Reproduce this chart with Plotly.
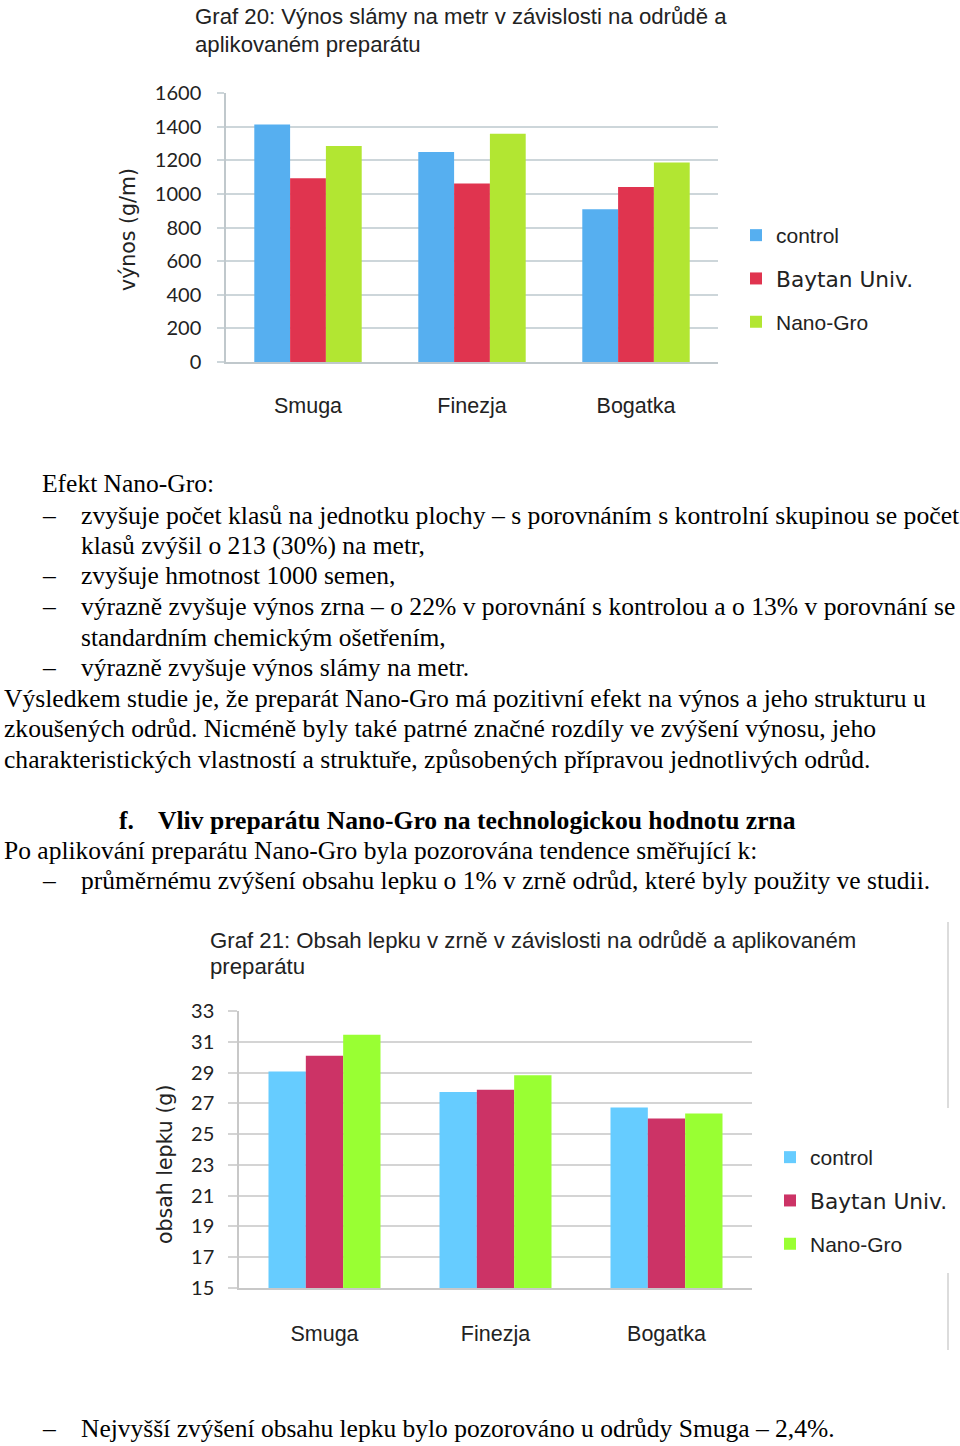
import plotly.graph_objects as go

W, H = 960, 1446

# ---------------- data ----------------
categories = ["Smuga", "Finezja", "Bogatka"]
series = ["control", "Baytan Univ.", "Nano-Gro"]

straw_control = [1413, 1249, 909]
straw_baytan = [1093, 1061, 1041]
straw_nanogro = [1285, 1358, 1186]

gluten_control = [29.07, 27.73, 26.73]
gluten_baytan = [30.09, 27.88, 26.02]
gluten_nanogro = [31.45, 28.83, 26.34]

straw_ticks = [0, 200, 400, 600, 800, 1000, 1200, 1400, 1600]
gluten_ticks = [15, 17, 19, 21, 23, 25, 27, 29, 31, 33]

title1 = ["Graf 20: Výnos slámy na metr v závislosti na odrůdě a", "aplikovaném preparátu"]
title2 = ["Graf 21: Obsah lepku v zrně v závislosti na odrůdě a aplikovaném", "preparátu"]
ytitle1 = "výnos (g/m)"
ytitle2 = "obsah lepku (g)"

# body text: (y_px, x_px, text, bold, size)
body_lines = [
    (484, 40, "Efekt Nano-Gro:", False, 25.5),
    (515, 40, "–", False, 25.5),
    (515, 79, "zvyšuje počet klasů na jednotku plochy – s porovnáním s kontrolní skupinou se počet", False, 25.7),
    (545, 79, "klasů zvýšil o 213 (30%) na metr,", False, 25.5),
    (576, 40, "–", False, 25.5),
    (576, 79, "zvyšuje hmotnost 1000 semen,", False, 25.5),
    (606, 40, "–", False, 25.5),
    (606, 79, "výrazně zvyšuje výnos zrna – o 22% v porovnání s kontrolou a o 13% v porovnání se", False, 25.6),
    (637, 79, "standardním chemickým ošetřením,", False, 25.5),
    (667, 40, "–", False, 25.5),
    (667, 79, "výrazně zvyšuje výnos slámy na metr.", False, 25.5),
    (698, 2, "Výsledkem studie je, že preparát Nano-Gro má pozitivní efekt na výnos a jeho strukturu u", False, 25.6),
    (728, 2, "zkoušených odrůd. Nicméně byly také patrné značné rozdíly ve zvýšení výnosu, jeho", False, 25.6),
    (759, 2, "charakteristických vlastností a struktuře, způsobených přípravou jednotlivých odrůd.", False, 25.6),
    (820, 117, "f.", True, 25.5),
    (820, 156, "Vliv preparátu Nano-Gro na technologickou hodnotu zrna", True, 25.6),
    (850, 2, "Po aplikování preparátu Nano-Gro byla pozorována tendence směřující k:", False, 25.5),
    (881, 40, "–", False, 25.5),
    (881, 79, "průměrnému zvýšení obsahu lepku o 1% v zrně odrůd, které byly použity ve studii.", False, 25.5),
    (1428, 40, "–", False, 25.5),
    (1428, 79, "Nejvyšší zvýšení obsahu lepku bylo pozorováno u odrůdy Smuga – 2,4%.", False, 25.5),
]

colors1 = ["#56aff0", "#e0344f", "#b2e632"]
colors2 = ["#66ccff", "#cc3366", "#99ff33"]


def py(px):
    return 1 - px / H


def pxx(px):
    return px / W


fig = go.Figure()

straw = [straw_control, straw_baytan, straw_nanogro]
gluten = [gluten_control, gluten_baytan, gluten_nanogro]


def legend_name(s):
    if s == "Baytan Univ.":
        return '<span style="font-family:DejaVu Sans;font-size:21.7px">' + s + "</span>"
    return s


for i, s in enumerate(series):
    fig.add_trace(go.Bar(x=categories, y=straw[i], name=legend_name(s), marker_color=colors1[i],
                         marker_line_width=0, xaxis="x", yaxis="y", legend="legend",
                         legendgroup="a" + str(i)))
for i, s in enumerate(series):
    fig.add_trace(go.Bar(x=categories, y=gluten[i], name=legend_name(s), marker_color=colors2[i],
                         marker_line_width=0, xaxis="x2", yaxis="y2", legend="legend2",
                         legendgroup="b" + str(i)))

tickfont = dict(family="Lato", size=20, color="#222222")
catfont = dict(family="Liberation Sans", size=21.5, color="#222222")
legfont = dict(family="Liberation Sans", size=21, color="#222222")

fig.update_layout(
    width=W, height=H,
    margin=dict(l=0, r=0, t=0, b=0, autoexpand=False),
    paper_bgcolor="white", plot_bgcolor="white",
    barmode="group", bargap=0.345, bargroupgap=0,
    showlegend=True,
    xaxis=dict(domain=[pxx(226), pxx(718)], anchor="y", showgrid=False, showline=True,
               linecolor="#c0c8cc", linewidth=1.5, ticks="", tickfont=catfont,
               ticklabelstandoff=23, range=[-0.5, 2.5], automargin=False),
    yaxis=dict(domain=[py(362), py(93)], anchor="x", range=[0, 1600], tickvals=straw_ticks,
               showgrid=True, gridcolor="#cdd6da", gridwidth=1.5, showline=True,
               linecolor="#c0c8cc", linewidth=1.5, ticks="outside", ticklen=7,
               tickcolor="#cdd6da", tickwidth=1.5, tickfont=tickfont, ticklabelstandoff=12,
               zeroline=False, automargin=False),
    xaxis2=dict(domain=[pxx(239), pxx(752)], anchor="y2", showgrid=False, showline=True,
                linecolor="#c8c8c8", linewidth=1.5, ticks="", tickfont=catfont,
                ticklabelstandoff=25, range=[-0.5, 2.5], automargin=False),
    yaxis2=dict(domain=[py(1288), py(1011)], anchor="x2", range=[15, 33], tickvals=gluten_ticks,
                showgrid=True, gridcolor="#d4d4d4", gridwidth=1.5, showline=True,
                linecolor="#c8c8c8", linewidth=1.5, ticks="outside", ticklen=9,
                tickcolor="#d4d4d4", tickwidth=1.5, tickfont=tickfont, ticklabelstandoff=10,
                zeroline=False, automargin=False),
    legend=dict(x=pxx(736), y=py(215), xanchor="left", yanchor="top", font=legfont,
                traceorder="grouped", tracegroupgap=13, bgcolor="rgba(0,0,0,0)",
                itemclick=False),
    legend2=dict(x=pxx(770), y=py(1137), xanchor="left", yanchor="top", font=legfont,
                 traceorder="grouped", tracegroupgap=13, bgcolor="rgba(0,0,0,0)",
                 itemclick=False),
)

annotations = []
titlefont = dict(family="Liberation Sans", size=22.2, color="#222222")
for k, t in enumerate(title1):
    annotations.append(dict(text=t, x=pxx(193), y=py(17 + 27 * k), xref="paper", yref="paper",
                            xanchor="left", yanchor="middle", showarrow=False, font=titlefont))
for k, t in enumerate(title2):
    annotations.append(dict(text=t, x=pxx(208), y=py(940 + 27 * k), xref="paper", yref="paper",
                            xanchor="left", yanchor="middle", showarrow=False, font=titlefont))
annotations.append(dict(text=ytitle1, x=pxx(128), y=py(230), xref="paper", yref="paper",
                        textangle=-90, showarrow=False, xanchor="center", yanchor="middle",
                        font=dict(family="DejaVu Sans", size=20.5, color="#222222")))
annotations.append(dict(text=ytitle2, x=pxx(165), y=py(1165), xref="paper", yref="paper",
                        textangle=-90, showarrow=False, xanchor="center", yanchor="middle",
                        font=dict(family="DejaVu Sans", size=20.5, color="#222222")))
for (ypx, xpx, t, bold, sz) in body_lines:
    annotations.append(dict(text=("<b>" + t + "</b>") if bold else t, x=pxx(xpx), y=py(ypx),
                            xref="paper", yref="paper", xanchor="left", yanchor="middle",
                            showarrow=False,
                            font=dict(family="Liberation Serif", size=sz, color="black")))
fig.update_layout(annotations=annotations)

fig.add_shape(type="line", xref="paper", yref="paper", x0=pxx(948), x1=pxx(948),
              y0=py(922), y1=py(1108), line=dict(color="#d0d0d0", width=1.5))
fig.add_shape(type="line", xref="paper", yref="paper", x0=pxx(948), x1=pxx(948),
              y0=py(1273), y1=py(1350), line=dict(color="#d0d0d0", width=1.5))

fig.write_html("out.html", config={"displayModeBar": False},
               post_script="document.body.style.margin='0px';document.body.style.overflow='hidden';")
